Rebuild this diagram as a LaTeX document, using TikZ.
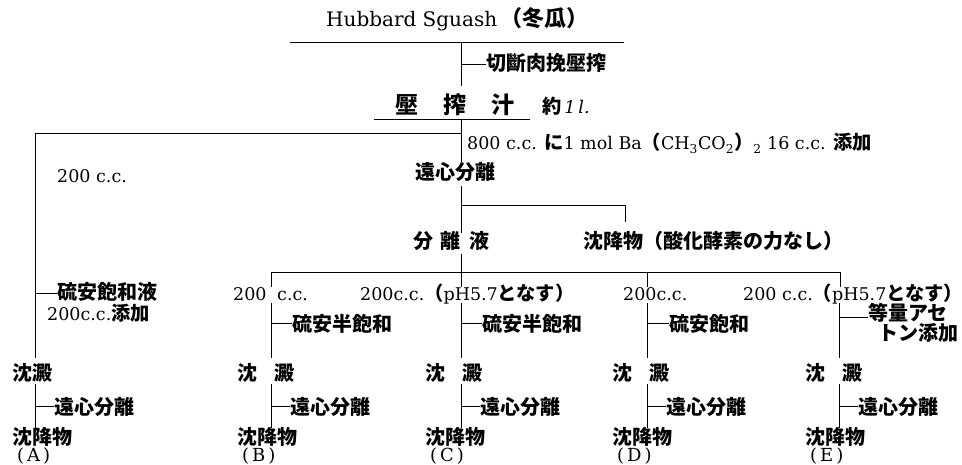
\documentclass[tikz,border=0pt]{standalone}
\usepackage{fontspec}
\setmainfont{DejaVu Serif}
\newfontfamily\cjk{Noto Sans CJK JP}
\newfontfamily\cjki{Noto Sans CJK JP}[Scale=1.1]
\newcommand\J[1]{{\cjki\bfseries #1}}
\begin{document}
\begin{tikzpicture}[x=1pt,y=-1pt,
  t/.style={inner sep=0pt, anchor=base west, font=\fontsize{17.5}{17.5}\selectfont},
  jp/.style={inner sep=0pt, anchor=base west, font=\fontsize{20}{20}\selectfont\cjk\bfseries},
  ln/.style={line width=0.9pt}]
\useasboundingbox (0,0) rectangle (962,465);
% ---------- title
\node[t, font=\fontsize{20}{20}\selectfont] (title) at (326,27) {Hubbard Sguash\,\J{（冬瓜）}};
\coordinate (l1a) at (290,42); \coordinate (l1b) at (624,42); \coordinate (l1m) at (461,42);
\draw[ln] (l1a) -- (l1b);
\coordinate (v1b) at (461,86);
\draw[ln] (l1m) -- (v1b);
\node[jp] (cut) at (486,71) {切斷肉挽壓搾};
\coordinate (cutd) at (461,64);
\draw[ln] (cutd) -- (cutd -| cut.west);
% ---------- pressed juice
\node[jp, font=\fontsize{23}{23}\selectfont\cjk\bfseries] (juice) at (395,114) {壓\hspace{25pt}搾\hspace{25pt}汁};
\node[t] (vol) at (542,114) {\J{約}\,{\itshape 1\,l.}};
\coordinate (ula) at (374,119); \coordinate (ulb) at (530,119); \coordinate (pj) at (461,119);
\draw[ln] (ula) -- (ulb);
\coordinate (hl) at (35,133); \coordinate (hm) at (461,133);
\draw[ln] (hm) -- (hl);
\coordinate (v2b) at (461,162);
\draw[ln] (pj) -- (v2b);
\node[t] (ba) at (467,150) {800 c.c. \J{に}1 mol Ba\J{（}CH\textsubscript{3}CO\textsubscript{2}\J{）}\textsubscript{2} 16 c.c. \J{添加}};
\node[t] (a200) at (57,183) {200 c.c.};
\node[jp] (cent) at (415,180) {遠心分離};
% ---------- split
\coordinate (v3a) at (461,186); \coordinate (v3b) at (461,233);
\draw[ln] (v3a) -- (v3b);
\coordinate (b1) at (461,205); \coordinate (b2) at (625,205); \coordinate (b3) at (625,222);
\draw[ln] (b1) -- (b2) -- (b3);
\node[jp] (sup) at (413,249) {分\hspace{7pt}離\hspace{9pt}液};
\node[jp] (ppt) at (583,249) {沈降物（酸化酵素の力なし）};
\coordinate (v4a) at (461,254); \coordinate (v4b) at (461,287);
\draw[ln] (v4a) -- (v4b);
\coordinate (h5a) at (271,272); \coordinate (h5b) at (840,272);
\draw[ln] (h5a) -- (h5b);
\coordinate (bB) at (271,287); \coordinate (bD) at (647,287); \coordinate (bE) at (840,287);
\coordinate (tD) at (647,272);
\draw[ln] (h5a) -- (bB);
\draw[ln] (tD) -- (bD);
\draw[ln] (h5b) -- (bE);
% ---------- row of volumes
\node[t] (vB) at (233,301) {200};
\node[t] (vB2) at (277,301) {c.c.};
\node[t] (vC) at (360,301) {200c.c.\J{（}pH5.7\J{となす）}};
\node[t] (vD) at (623,301) {200c.c.};
\node[t] (vE) at (743,301) {200 c.c.\J{（}pH5.7\J{となす）}};
% left column
\coordinate (lA) at (35,358);
\draw[ln] (hl) -- (lA);
\node[jp] (ammA) at (57,300) {硫安飽和液};
\coordinate (dA) at (35,293);
\draw[ln] (dA) -- (dA -| ammA.west);
\node[t] (ammA2) at (47,320) {200c.c.\J{添加}};
% treatments
\coordinate (uB) at (271,303); \coordinate (wB) at (271,358);
\coordinate (uC) at (461,303); \coordinate (wC) at (461,358);
\coordinate (uD) at (647,303); \coordinate (wD) at (647,358);
\coordinate (uE) at (839,303); \coordinate (wE) at (839,358);
\draw[ln] (uB) -- (wB); \draw[ln] (uC) -- (wC); \draw[ln] (uD) -- (wD); \draw[ln] (uE) -- (wE);
\node[jp] (trB) at (292,331) {硫安半飽和};
\node[jp] (trC) at (482,331) {硫安半飽和};
\node[jp] (trD) at (669,331) {硫安飽和};
\node[jp] (trE) at (868,320) {等量アセ};
\node[jp] (trE2) at (878,341) {トン添加};
\coordinate (dB) at (271,323); \coordinate (dC) at (461,323); \coordinate (dD) at (647,323); \coordinate (dE) at (839,317);
\draw[ln] (dB) -- (dB -| trB.west);
\draw[ln] (dC) -- (dC -| trC.west);
\draw[ln] (dD) -- (dD -| trD.west);
\draw[ln] (dE) -- (dE -| trE.west);
% ---------- precipitates
\node[jp] (pA) at (12,380) {沈澱};
\node[jp] (pB) at (237,380) {沈\hspace{17pt}澱};
\node[jp] (pC) at (425,380) {沈\hspace{17pt}澱};
\node[jp] (pD) at (612,380) {沈\hspace{17pt}澱};
\node[jp] (pE) at (805,380) {沈\hspace{17pt}澱};
\foreach \c/\x in {A/35,B/271,C/461,D/647,E/839}{
  \coordinate (r\c) at (\x,384);
  \coordinate (s\c) at (\x,428);
  \draw[ln] (r\c) -- (s\c);
  \node[jp] (cf\c) at (\x+19,414) {遠心分離};
  \coordinate (e\c) at (\x,406);
  \draw[ln] (e\c) -- (e\c -| cf\c.west);
}
\foreach \c/\x in {A/12,B/237,C/425,D/612,E/805}{
  \node[jp] (f\c) at (\x,444) {沈降物};
  \node[t, font=\fontsize{18}{18}\selectfont] (g\c) at (\x+5,461) {(\,\c\,)};
}
\end{tikzpicture}
\end{document}
